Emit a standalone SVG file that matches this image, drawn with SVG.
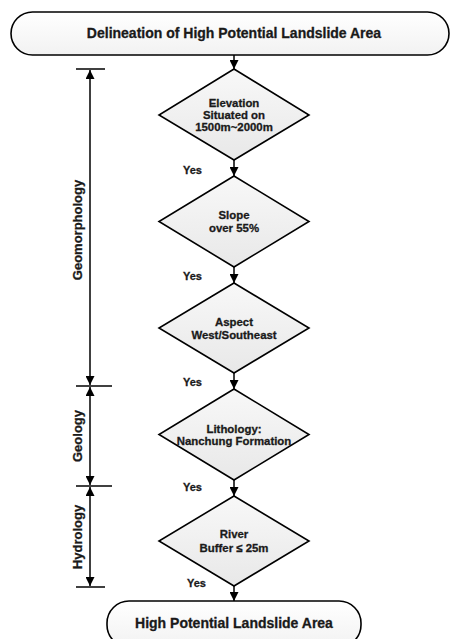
<svg xmlns="http://www.w3.org/2000/svg" width="452" height="639" viewBox="0 0 452 639">
<defs>
<linearGradient id="g" x1="0" y1="0" x2="0" y2="1">
<stop offset="0" stop-color="#f8f8f8"/><stop offset="1" stop-color="#e8e8e8"/>
</linearGradient>
<linearGradient id="gb" x1="0" y1="0" x2="0" y2="1">
<stop offset="0" stop-color="#ffffff"/><stop offset="1" stop-color="#f2f2f2"/>
</linearGradient>
<marker id="ah" viewBox="0 0 10 10" refX="10" refY="5" markerWidth="9" markerHeight="9" markerUnits="userSpaceOnUse" orient="auto">
<path d="M0,0 L10,5 L0,10 z" fill="#000"/>
</marker>
</defs>
<style>
.t{font-family:"Liberation Sans",Arial,sans-serif;font-weight:bold;fill:#1a1a1a;stroke:#1a1a1a;stroke-width:0.3;text-anchor:middle}
.d{font-size:11.4px}
.b{font-size:14px}
.y{font-size:11px;text-anchor:start}
.s{font-size:13px}
.n{fill:url(#g);stroke:#000;stroke-width:1.6}
.r{fill:url(#gb);stroke:#000;stroke-width:1.6}
.c{fill:none;stroke:#000;stroke-width:1.5}
</style>
<g id="start">
<rect class="r" x="11" y="12" width="438" height="43" rx="21.5"/>
<text class="t b" x="234" y="38">Delineation of High Potential Landslide Area</text>
</g>
<g id="elevation">
<polygon class="n" points="234,69 309,115 234,160 159,115"/>
<text class="t d" x="234" y="107">Elevation</text>
<text class="t d" x="234" y="119">Situated on</text>
<text class="t d" x="234" y="131">1500m~2000m</text>
</g>
<g id="slope">
<polygon class="n" points="234,176 309,221.5 234,267 159,221.5"/>
<text class="t d" x="234" y="219">Slope</text>
<text class="t d" x="234" y="232">over 55%</text>
</g>
<g id="aspect">
<polygon class="n" points="234,283 309,328 234,373 159,328"/>
<text class="t d" x="234" y="326">Aspect</text>
<text class="t d" x="234" y="339">West/Southeast</text>
</g>
<g id="lithology">
<polygon class="n" points="234,389 309,434.5 234,480 159,434.5"/>
<text class="t d" x="234" y="433">Lithology:</text>
<text class="t d" x="234" y="445">Nanchung Formation</text>
</g>
<g id="river">
<polygon class="n" points="234,496 309,541 234,586 159,541"/>
<text class="t d" x="234" y="538">River</text>
<text class="t d" x="234" y="552">Buffer ≤ 25m</text>
</g>
<g id="end">
<rect class="r" x="107" y="601" width="254" height="46" rx="22"/>
<text class="t b" x="234" y="628">High Potential Landslide Area</text>
</g>
<g id="connectors">
<line class="c" x1="234" y1="55" x2="234" y2="69" marker-end="url(#ah)"/>
<line class="c" x1="234" y1="160" x2="234" y2="176" marker-end="url(#ah)"/>
<line class="c" x1="234" y1="267" x2="234" y2="283" marker-end="url(#ah)"/>
<line class="c" x1="234" y1="373" x2="234" y2="389" marker-end="url(#ah)"/>
<line class="c" x1="234" y1="480" x2="234" y2="496" marker-end="url(#ah)"/>
<line class="c" x1="234" y1="586" x2="234" y2="601" marker-end="url(#ah)"/>
<text class="t y" x="183" y="174">Yes</text>
<text class="t y" x="183" y="280">Yes</text>
<text class="t y" x="183" y="386">Yes</text>
<text class="t y" x="183" y="491">Yes</text>
<text class="t y" x="187" y="587">Yes</text>
</g>
<g id="brackets">
<line class="c" x1="76" y1="69" x2="105" y2="69"/>
<line class="c" x1="76" y1="386" x2="112" y2="386"/>
<line class="c" x1="76" y1="486" x2="112" y2="486"/>
<line class="c" x1="76" y1="587" x2="105" y2="587"/>
<line class="c" x1="90" y1="228" x2="90" y2="70" marker-end="url(#ah)"/>
<line class="c" x1="90" y1="228" x2="90" y2="385" marker-end="url(#ah)"/>
<line class="c" x1="90" y1="436" x2="90" y2="387" marker-end="url(#ah)"/>
<line class="c" x1="90" y1="436" x2="90" y2="485" marker-end="url(#ah)"/>
<line class="c" x1="90" y1="537" x2="90" y2="487" marker-end="url(#ah)"/>
<line class="c" x1="90" y1="537" x2="90" y2="586" marker-end="url(#ah)"/>
<text class="t s" transform="translate(82,230) rotate(-90)">Geomorphology</text>
<text class="t s" transform="translate(82,436) rotate(-90)">Geology</text>
<text class="t s" transform="translate(82,537) rotate(-90)">Hydrology</text>
</g>
</svg>
